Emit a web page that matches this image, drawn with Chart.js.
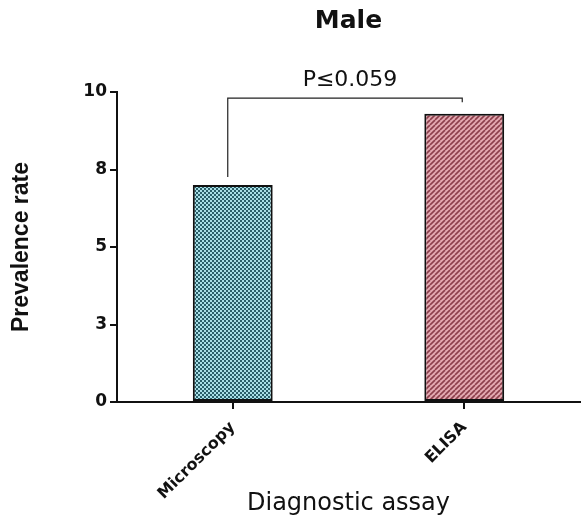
<!DOCTYPE html>
<html>
<head>
<meta charset="utf-8">
<script src="https://cdn.jsdelivr.net/npm/chart.js@4"></script>
<style>
  html, body { margin: 0; padding: 0; background: #fff; }
  #wrap { width: 584px; height: 518px; }
</style>
</head>
<body>
<div id="wrap"><canvas id="prevalenceChart" width="584" height="518"></canvas></div>
<script>
var assayLabels = ['Microscopy', 'ELISA'];
var prevalenceData = [7.0, 9.3];
var yTickValues = [0, 2.5, 5, 7.5, 10];
var chartTitle = 'Male';
var pValueText = 'P\u22640.059';

function checkerPattern(dark, light) {
	var c = document.createElement('canvas');
	c.width = 4; c.height = 4;
	var g = c.getContext('2d');
	g.fillStyle = light; g.fillRect(0, 0, 4, 4);
	g.fillStyle = dark;
	g.fillRect(0, 0, 2, 2);
	g.fillRect(2, 2, 2, 2);
	return g.createPattern(c, 'repeat');
}

function stripePattern(dark, light) {
	var c = document.createElement('canvas');
	c.width = 5; c.height = 5;
	var g = c.getContext('2d');
	g.fillStyle = light; g.fillRect(0, 0, 5, 5);
	g.strokeStyle = dark; g.lineWidth = 1.6;
	for (var i = -5; i <= 10; i += 5) {
		g.beginPath(); g.moveTo(i, 5); g.lineTo(i + 5, 0); g.stroke();
	}
	return g.createPattern(c, 'repeat');
}

var barColors = [checkerPattern('#2b5f69', '#a9dfe6'), stripePattern('#8c3f4c', '#e4a9b1')];

// title over the plot area + significance bracket between the two bars
var annotatePlugin = {
	id: 'annotate',
	afterDatasetsDraw: function(chart) {
		var ctx = chart.ctx;
		var x = chart.scales.x, y = chart.scales.y;
		var area = chart.chartArea;
		ctx.save();
		ctx.fillStyle = '#111';
		ctx.textAlign = 'center';
		ctx.textBaseline = 'alphabetic';
		ctx.font = 'bold 25px "DejaVu Sans", sans-serif';
		ctx.fillText(chartTitle, (area.left + area.right) / 2, 28);

		var x1 = x.getPixelForValue(0) - 5, x2 = x.getPixelForValue(1) - 2;
		var top = y.getPixelForValue(9.8);
		ctx.strokeStyle = '#222';
		ctx.lineWidth = 1.2;
		ctx.beginPath();
		ctx.moveTo(x1, y.getPixelForValue(prevalenceData[0]) - 8);
		ctx.lineTo(x1, top);
		ctx.lineTo(x2, top);
		ctx.lineTo(x2, top + 4);
		ctx.stroke();
		ctx.font = '22px "DejaVu Sans", sans-serif';
		ctx.fillText(pValueText, (x1 + x2) / 2 + 5, top - 12);
		ctx.restore();
	}
};

var prevalenceCtx = document.getElementById('prevalenceChart');
var prevalenceChart = new Chart(prevalenceCtx, {
	type: 'bar',
	data: {
		labels: assayLabels,
		datasets: [{
			label: 'Prevalence rate',
			data: prevalenceData,
			backgroundColor: barColors,
			borderColor: '#111',
			borderWidth: 2,
			borderSkipped: false,
			barPercentage: 0.345,
			categoryPercentage: 1
		}]
	},
	options: {
		responsive: false,
		animation: false,
		layout: { padding: { top: 92, right: 4, left: 0, bottom: 0 } },
		plugins: {
			legend: { display: false },
			tooltip: { enabled: false },
			title: { display: false }
		},
		scales: {
			x: {
				offset: true,
				grid: { display: true, offset: false, drawOnChartArea: false, drawTicks: true, tickLength: 7, color: '#111', lineWidth: 2 },
				border: { display: true, color: '#111', width: 2 },
				ticks: {
					minRotation: 45, maxRotation: 45,
					color: '#111',
					padding: 9,
					font: { family: '"DejaVu Sans", sans-serif', size: 16, weight: 'bold' }
				},
				title: {
					display: true,
					text: 'Diagnostic assay',
					color: '#111',
					font: { family: '"DejaVu Sans", sans-serif', size: 24 },
					padding: { top: 4, bottom: 0 }
				},
				afterFit: function(scale) { scale.height = 116; }
			},
			y: {
				min: 0, max: 10,
				afterBuildTicks: function(scale) {
					scale.ticks = yTickValues.map(function(v) { return { value: v }; });
				},
				grid: { display: true, drawOnChartArea: false, drawTicks: true, tickLength: 7, color: '#111', lineWidth: 2 },
				border: { display: true, color: '#111', width: 2 },
				ticks: {
					color: '#111',
					padding: 3,
					font: { family: '"DejaVu Sans", sans-serif', size: 17, weight: 'bold' },
					callback: function(v) { return Math.round(v); }
				},
				title: {
					display: true,
					text: 'Prevalence rate',
					color: '#111',
					font: { family: '"Liberation Sans", Arial, sans-serif', size: 23, weight: 'bold' },
					padding: { top: 8, bottom: 0 }
				},
				afterFit: function(scale) { scale.width = 117; }
			}
		}
	},
	plugins: [annotatePlugin]
});
</script>
</body>
</html>
